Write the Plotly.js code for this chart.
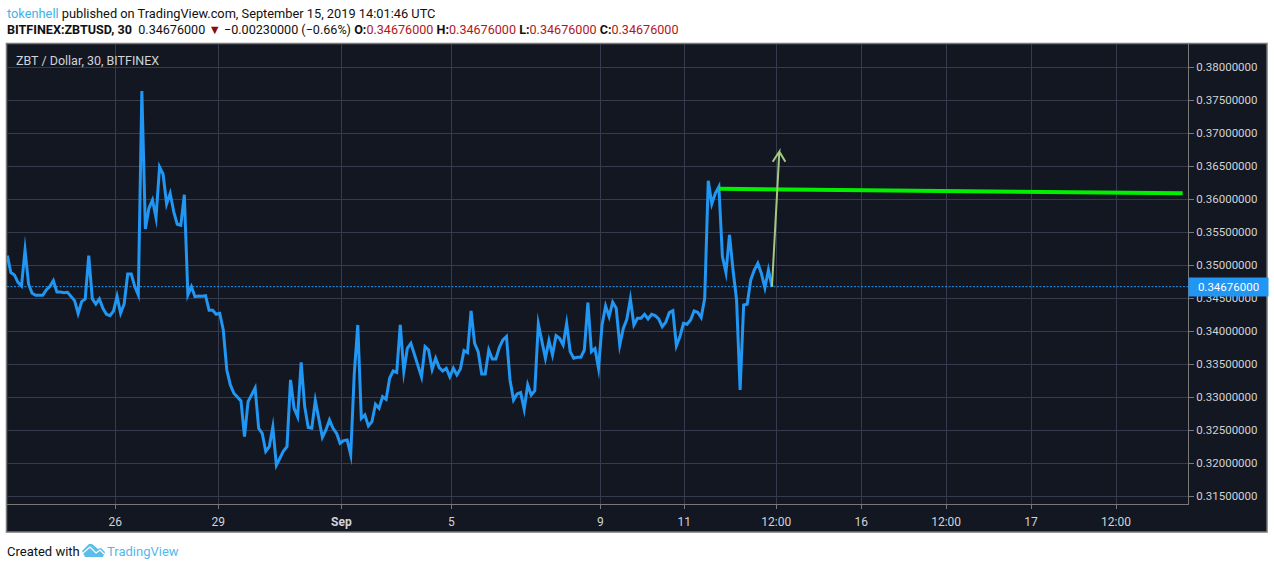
<!DOCTYPE html>
<html><head><meta charset="utf-8">
<script src="https://cdn.plot.ly/plotly-3.0.1.min.js"></script>
<style>html,body{margin:0;padding:0;background:#fff;overflow:hidden}#c{width:1274px;height:569px}
#c .js-line{stroke-miterlimit:10 !important;stroke-linejoin:miter !important}</style>
</head><body><div id="c"></div>
<script>
const closeValues = [
.35146,.34889,.34854,.34742,.34687,.3523,.34717,.34576,.34545,.3454,
.34545,.34626,.34677,.34768,.34596,.34596,.34586,.34591,.34535,.34465,
.3427,.34449,.3449,.35146,.34495,.34414,.3449,.34348,.34258,.34237,
.34308,.3453,.34273,.34414,.34869,.34869,.34677,.3455,.37641,.3555,
.35864,.3599,.3572,.3649,.36379,.3593,.36091,.35813,.35621,.35606,
.3607,.3455,.34677,.34525,.34535,.3453,.3454,.34318,.34318,.34258,
.34273,.3402,.33414,.33187,.33061,.3301,.32945,.32404,.32935,.33036,
.3314,.3253,.32455,.3218,.32253,.3255,.3197,.32076,.32187,.32253,
.33263,.32833,.32707,.3353,.32859,.32541,.3253,.3295,.32657,.32394,
.32505,.32657,.3253,.32455,.32303,.32344,.32354,.3213,.3335,.34096,
.32682,.32733,.32566,.32632,.32894,.32833,.3301,.3297,.33288,.33399,
.33379,.34096,.3339,.33743,.33818,.33642,.33465,.3331,.33768,.33717,
.33424,.33591,.3345,.33399,.3344,.3331,.3344,.33339,.33434,.33707,
.33677,.3431,.33818,.33692,.33354,.33354,.33717,.33581,.33581,.33758,
.33869,.3392,.33263,.3296,.33051,.33071,.3282,.3319,.33036,.33101,
.3411,.33869,.33591,.33859,.33642,.33934,.33894,.33793,.3412,.33692,
.33591,.33606,.33606,.33717,.34434,.33692,.33737,.3344,.34096,.34384,
.34222,.3444,.34349,.3379,.34045,.34182,.3449,.34096,.34197,.34197,
.34258,.34187,.34258,.34237,.34187,.34071,.34136,.34283,.34313,.3378,
.3392,.34121,.34106,.34172,.34308,.34288,.34207,.345,.3628,.3593,
.36091,.3619,.35131,.3489,.3546,.34929,.34475,.33111,.34399,.34409,
.34778,.34929,.3503,.34879,.3466,.3493,.34676];
const barIndex = closeValues.map((_, i) => i);
const lastPrice = 0.34676;
const lastPriceLabel = "0.34676000";
const yTicks = [.38,.375,.37,.365,.36,.355,.35,.345,.34,.335,.33,.325,.32,.315];
const xTickPos = [30.5,59.6,94.35,125.4,167.5,191.2,217.2,241.2,265.2,289.2,313.2];
const xTickText = ["26","29","<b>Sep</b>","5","9","11","12:00","16","12:00","17","12:00"];
const trendX = [201,332];
const trendY = [.3616,.36091];
const arrowX = [216,218.08,216.2,218.08,219.8];
const arrowY = [.34676,.36721,.3657,.36721,.3657];

const W=1274,H=569,L=7,R=1188,T=44,B=504;
const px=x=>(x-L)/(R-L), py=y=>(B-y)/(B-T);
const xRange=[(L-7.33)/3.54,(R-7.33)/3.54];
const yRange=[.38-(B-67.3)/6600,.38-(T-67.3)/6600];
const hdr='Roboto, Liberation Sans, sans-serif';
const red=s=>`<span style="color:#b2161c">${s}</span>`;
const line2=`<b>BITFINEX:ZBTUSD, 30</b>  0.34676000 <span style="color:#8b0a0a">▼</span> −0.00230000 (−0.66%) <b>O:</b>${red('0.34676000')} <b>H:</b>${red('0.34676000')} <b>L:</b>${red('0.34676000')} <b>C:</b>${red('0.34676000')}`;
const ann=(x,y,text,size,color,fam)=>({xref:'paper',yref:'paper',x:px(x),y:py(y),xanchor:'left',yanchor:'middle',text,showarrow:false,font:{family:fam||hdr,size,color},borderpad:0});
const lp=(pts)=>pts.map((p,i)=>(i?'L':'M')+px(p[0]).toFixed(5)+','+py(p[1]).toFixed(5)).join(' ');
const shapes=[
 {type:'rect',xref:'paper',yref:'paper',x0:px(6.5),x1:px(1267),y0:py(43.5),y1:py(532),fillcolor:'#131722',line:{color:'#787878',width:1.5},layer:'below'},
 {type:'path',xref:'paper',yref:'paper',path:lp([[82,551],[89,544],[92,544],[98,549],[101,548],[105,552],[103,557],[85,557]])+' Z',fillcolor:'#5cbde8',line:{width:0},layer:'above'},
 {type:'path',xref:'paper',yref:'paper',path:lp([[83,553],[90,547],[96,553],[100,550],[104,554]]),line:{color:'#ffffff',width:1.2},layer:'above'},
];
const data=[
 {x:[xRange[0],xRange[1]],y:[lastPrice,lastPrice],mode:'lines',line:{color:'#2196f3',width:1,dash:'2px,1.5px'},hoverinfo:'skip'},
 {x:barIndex,y:closeValues,mode:'lines',line:{color:'#2196f3',width:3},hoverinfo:'skip'},
 {x:trendX,y:trendY,mode:'lines',line:{color:'#00f000',width:4},hoverinfo:'skip'},
 {x:arrowX,y:arrowY,mode:'lines',line:{color:'#a3c97f',width:2},hoverinfo:'skip'},
];
const layout={
 width:W,height:H,showlegend:false,paper_bgcolor:'#ffffff',plot_bgcolor:'rgba(0,0,0,0)',
 margin:{l:L,r:W-R,t:T,b:H-B,pad:0},
 font:{family:'Roboto, sans-serif'},
 xaxis:{range:xRange,tickmode:'array',tickvals:xTickPos,ticktext:xTickText,showgrid:true,gridcolor:'#363c4e',gridwidth:1,zeroline:false,
   ticks:'outside',ticklen:4,tickcolor:'#787878',showline:true,linecolor:'#787878',linewidth:1,tickfont:{size:12,color:'#d0d3d8'},tickangle:0,ticklabelstandoff:3},
 yaxis:{range:yRange,side:'right',tickmode:'array',tickvals:yTicks,ticktext:yTicks.map(v=>v.toFixed(8)),showgrid:true,gridcolor:'#363c4e',gridwidth:1,zeroline:false,
   ticks:'outside',ticklen:5,tickcolor:'#787878',showline:true,linecolor:'#787878',linewidth:1,tickfont:{size:11.5,color:'#d0d3d8'}},
 shapes,
 annotations:[
  ann(6,13,'<span style="color:#3fb3e6">tokenhell</span> published on TradingView.com, September 15, 2019 14:01:46 UTC',12.8,'#111'),
  ann(6,30,line2,12.6,'#111'),
  ann(15,60,'ZBT / Dollar, 30, BITFINEX',12.5,'#d0d3d8'),
  ann(6,551,'Created with',13,'#111'),
  ann(106,551,'TradingView',13,'#53b9ea'),
  {xref:'paper',yref:'y',x:1,y:lastPrice,xanchor:'left',yanchor:'middle',xshift:0,text:lastPriceLabel,showarrow:false,width:79,height:18,align:'center',bgcolor:'#2196f3',borderpad:0,font:{size:11.5,color:'#ffffff',family:'Roboto, sans-serif'}},
 ],
};
Plotly.newPlot('c',data,layout,{displayModeBar:false,staticPlot:true});
</script></body></html>
